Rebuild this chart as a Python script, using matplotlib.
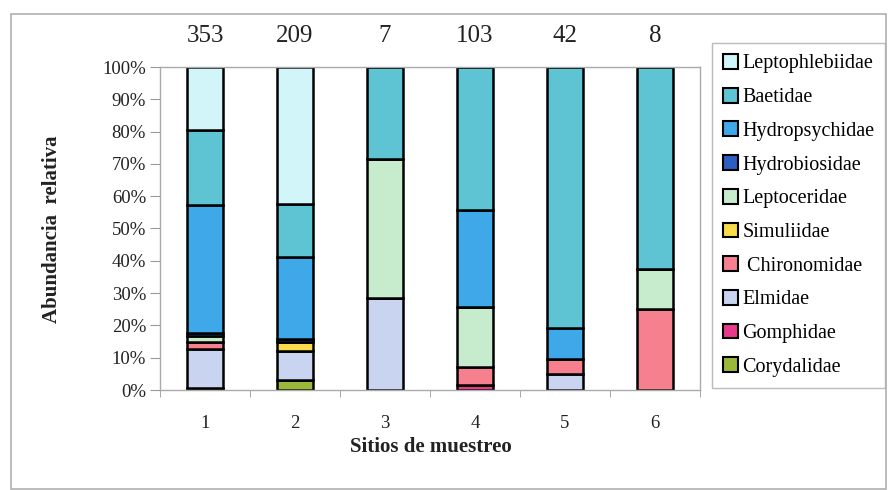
import matplotlib
matplotlib.use("Agg")
import matplotlib.pyplot as plt
import numpy as np
from matplotlib.patches import Rectangle, Patch

plt.rcParams['font.family'] = ['Liberation Serif', 'DejaVu Serif']

sites = ["1", "2", "3", "4", "5", "6"]
counts = [353, 209, 7, 103, 42, 8]

# stacking order bottom -> top
families = ["Corydalidae", "Gomphidae", "Elmidae", " Chironomidae", "Simuliidae",
            "Leptoceridae", "Hydrobiosidae", "Hydropsychidae", "Baetidae", "Leptophlebiidae"]
colors = ["#9BB83A", "#E8398A", "#C9D4F1", "#F7808F", "#F8DC4C",
          "#C6ECCD", "#2F5EC2", "#3EA8E8", "#5EC4D4", "#D2F5F9"]

corydalidae     = [0.6, 3.0, 0.0, 0.0, 0.0, 0.0]
gomphidae       = [0.0, 0.0, 0.0, 1.5, 0.0, 0.0]
elmidae         = [12.2, 9.0, 28.6, 0.0, 4.8, 0.0]
chironomidae    = [2.2, 0.0, 0.0, 5.6, 4.8, 25.0]
simuliidae      = [0.0, 3.0, 0.0, 0.0, 0.0, 0.0]
leptoceridae    = [1.6, 0.0, 42.8, 18.5, 0.0, 12.5]
hydrobiosidae   = [1.2, 0.9, 0.0, 0.0, 0.0, 0.0]
hydropsychidae  = [39.4, 25.4, 0.0, 30.2, 9.5, 0.0]
baetidae        = [23.3, 16.3, 28.6, 44.2, 80.9, 62.5]
leptophlebiidae = [19.5, 42.4, 0.0, 0.0, 0.0, 0.0]

series = [corydalidae, gomphidae, elmidae, chironomidae, simuliidae,
          leptoceridae, hydrobiosidae, hydropsychidae, baetidae, leptophlebiidae]

W, H = 894, 490
fig = plt.figure(figsize=(W / 100, H / 100), dpi=100)

# outer frame
fig.patches.append(Rectangle((11 / W, 1 - 489 / H), 875 / W, 475 / H, transform=fig.transFigure,
                             fill=False, edgecolor="#b0b0b0", linewidth=1.2))

ax = fig.add_axes([160 / W, 1 - 390 / H, 540 / W, 323 / H])
x = np.arange(len(sites))
bottom = np.zeros(len(sites))
handles = []
for name, vals, c in zip(families, series, colors):
    vals = np.array(vals, dtype=float)
    ax.bar(x, vals, bottom=bottom, width=0.4, color=c, edgecolor="black", linewidth=1.8)
    bottom += vals
    handles.append(Patch(facecolor=c, edgecolor="black", linewidth=1.5, label=name))

ax.set_xlim(-0.5, len(sites) - 0.5)
ax.set_ylim(0, 100)
ax.set_yticks(np.arange(0, 101, 10))
ax.set_yticklabels([f"{v}%" for v in range(0, 101, 10)], fontsize=13.5, color="#222222")
ax.set_xticks(x)
ax.set_xticklabels(sites, fontsize=13.5, color="#222222")
ax.set_xticks(np.arange(-0.5, len(sites), 1), minor=True)
ax.tick_params(axis="x", which="major", length=0, pad=18)
ax.tick_params(axis="x", which="minor", length=5, color="#999999", direction="out")
ax.tick_params(axis="y", length=7, color="#999999", pad=3)
for s in ax.spines.values():
    s.set_color("#aaaaaa")
    s.set_linewidth(1.0)

for xi, n in zip(x, counts):
    ax.text(xi, 1.0 + 31 / 323, str(n), transform=ax.get_xaxis_transform(),
            ha="center", va="center", fontsize=18, color="#222222")

fig.text(431 / W, 1 - 447 / H, "Sitios de muestreo", ha="center", va="center",
         fontsize=15, fontweight="bold", color="#222222")
fig.text(52 / W, 1 - 229 / H, "Abundancia  relativa", ha="center", va="center",
         rotation=90, fontsize=15, fontweight="bold", color="#222222")

leg = fig.legend(handles=handles[::-1], loc="upper left",
                 bbox_to_anchor=(712 / W, 1 - 43 / H), fontsize=14.5,
                 frameon=True, fancybox=False, edgecolor="#aaaaaa",
                 handlelength=0.75, handleheight=0.75, handletextpad=0.2,
                 labelspacing=0.71, borderpad=0.55, borderaxespad=0)
leg.get_frame().set_linewidth(1.0)

fig.savefig("out.png", dpi=100)
